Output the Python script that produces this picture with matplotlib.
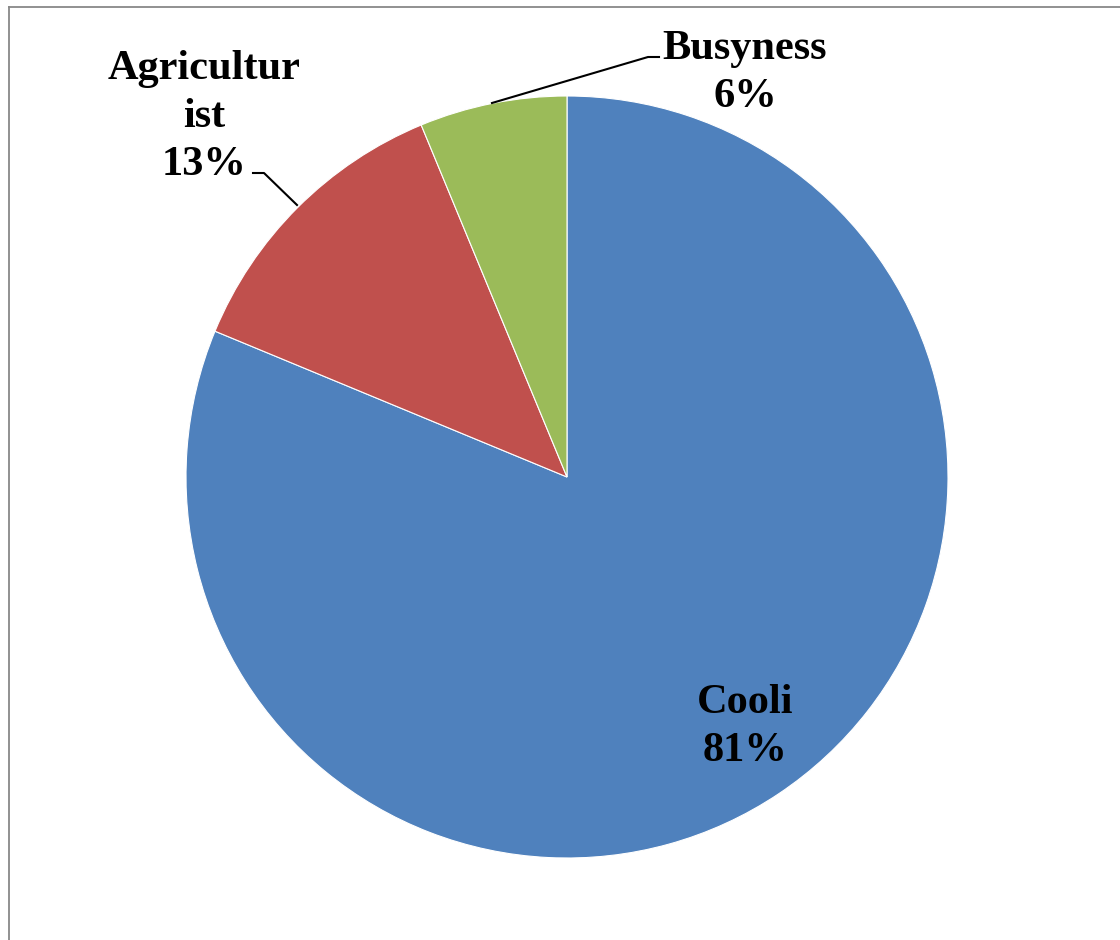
import matplotlib.pyplot as plt
from matplotlib.lines import Line2D

labels = ["Cooli", "Agricultur\nist", "Busyness"]
values = [130, 20, 10]
colors = ["#4F81BD", "#C0504D", "#9BBB59"]

W, H = 1120, 940

fig = plt.figure(figsize=(W / 100, H / 100), dpi=100)
ax = fig.add_axes([0, 0, 1, 1])
ax.axis("off")

# pie in pixel-like coordinates (y measured from bottom)
cx, cy, r = 567, H - 477, 381
ax.pie(values, colors=colors, startangle=90, counterclock=False,
       center=(cx, cy), radius=r, frame=False,
       wedgeprops=dict(edgecolor="white", linewidth=0.8))
ax.set_xlim(0, W)
ax.set_ylim(0, H)
ax.set_aspect("equal")

total = sum(values)
pcts = [int(v * 100 / total + 0.5) for v in values]

font = dict(family="Liberation Serif", fontweight="bold", fontsize=30.5,
            ha="center", va="center", linespacing=1.33)

ax.text(745, H - 727, f"{labels[0]}\n{pcts[0]}%", **font)
ax.text(204, H - 117, f"{labels[1]}\n{pcts[1]}%", **font)
ax.text(745, H - 73, f"{labels[2]}\n{pcts[2]}%", **font)

# leader lines
ax.plot([492, 648, 659], [H - 103, H - 57, H - 57], color="black", lw=1.5)
ax.plot([253, 264, 297], [H - 173, H - 173, H - 205], color="black", lw=1.5)

# chart border (top and left visible)
fig.add_artist(Line2D([8.5 / W, 8.5 / W], [0, 1 - 7 / H], color="#888888",
                      lw=1.3, transform=fig.transFigure))
fig.add_artist(Line2D([8.5 / W, 1], [1 - 7 / H, 1 - 7 / H], color="#888888",
                      lw=1.3, transform=fig.transFigure))

fig.savefig("out.png", dpi=100)
